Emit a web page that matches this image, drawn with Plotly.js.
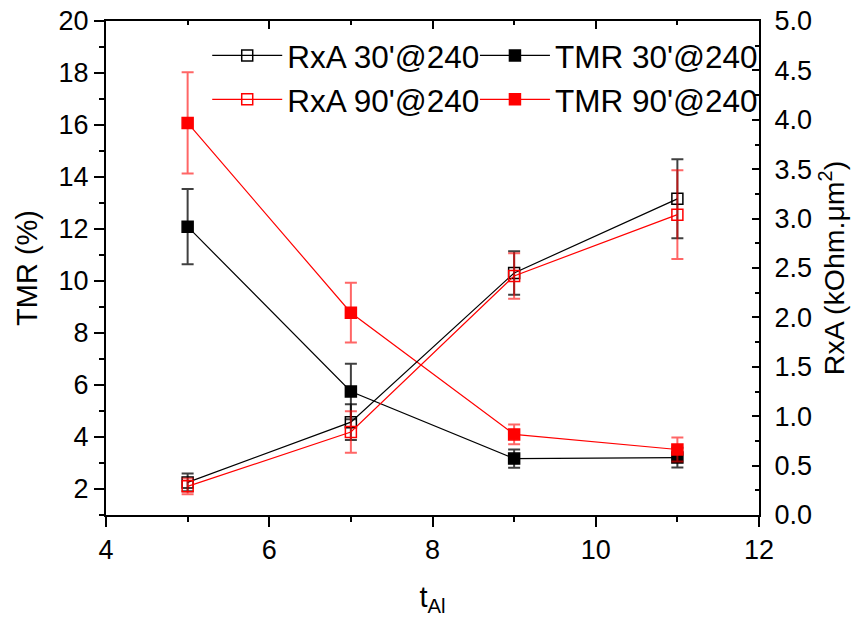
<!DOCTYPE html>
<html>
<head>
<meta charset="utf-8">
<script src="https://cdn.plot.ly/plotly-3.0.1.min.js"></script>
<style>html,body{margin:0;padding:0;background:#fff;}#chart{width:861px;height:623px;}</style>
</head>
<body>
<div id="chart"></div>
<script>
// t_Al values
const tAl = [5, 7, 9, 11];
// TMR (%) - left axis
const tmr30 = [12.09, 5.75, 3.17, 3.21];
const tmr30Err = [1.45, 1.07, 0.35, 0.38];
const tmr90 = [16.08, 8.78, 4.10, 3.52];
const tmr90Err = [1.95, 1.15, 0.38, 0.46];
// RxA (kOhm.um^2) - right axis
const rxa30 = [0.33, 0.94, 2.45, 3.20];
const rxa30Err = [0.09, 0.18, 0.22, 0.40];
const rxa90 = [0.29, 0.84, 2.42, 3.04];
const rxa90Err = [0.08, 0.21, 0.23, 0.45];

const names = ["RxA 30'@240", "TMR 30'@240", "RxA 90'@240", "TMR 90'@240"];

const font = 'Liberation Sans, Arial, sans-serif';

function tr(name, y, err, color, errColor, symbol, yax, leg) {
  return {
    type: 'scatter', mode: 'lines+markers', name: name,
    x: tAl, y: y, yaxis: yax, legend: leg,
    line: {color: color, width: 1.2},
    marker: {symbol: symbol, size: 11, color: color, line: {color: color, width: 1.5}},
    error_y: {type: 'data', array: err, visible: true, color: errColor, thickness: 2, width: 6}
  };
}

const data = [
  tr(names[0], rxa30, rxa30Err, '#000000', 'rgba(0,0,0,0.75)', 'square-open', 'y2', 'legend'),
  tr(names[2], rxa90, rxa90Err, '#ff0000', 'rgba(255,0,0,0.6)', 'square-open', 'y2', 'legend'),
  tr(names[1], tmr30, tmr30Err, '#000000', 'rgba(0,0,0,0.75)', 'square', 'y', 'legend2'),
  tr(names[3], tmr90, tmr90Err, '#ff0000', 'rgba(255,0,0,0.6)', 'square', 'y', 'legend2'),
  {type: 'scatter', x: [], y: [], xaxis: 'x2', showlegend: false, hoverinfo: 'skip'}
];

const layout = {
  width: 861, height: 623,
  margin: {l: 106, r: 102, t: 21, b: 108},
  paper_bgcolor: '#fff', plot_bgcolor: '#fff',
  font: {family: font, color: '#000', size: 27},
  showlegend: true,
  xaxis: {
    range: [4, 12], tick0: 4, dtick: 2, ticks: 'outside', ticklen: 10, tickwidth: 2,
    tickcolor: '#000', showline: true, linewidth: 2, linecolor: '#000',
    showgrid: false, zeroline: false, tickfont: {size: 27},
    minor: {ticks: 'outside', dtick: 1, tick0: 4, ticklen: 5, tickwidth: 2, tickcolor: '#000', showgrid: false},
    title: {text: 't<sub>Al</sub>', font: {size: 29}, standoff: 22}
  },
  xaxis2: {
    overlaying: 'x', side: 'top', anchor: 'y', range: [4, 12], tick0: 4, dtick: 2,
    ticks: 'inside', ticklen: 8, tickwidth: 2, tickcolor: '#000',
    showline: true, linewidth: 2, linecolor: '#000', showticklabels: false,
    showgrid: false, zeroline: false,
    minor: {ticks: 'inside', dtick: 1, tick0: 4, ticklen: 4, tickwidth: 2, tickcolor: '#000', showgrid: false}
  },
  yaxis: {
    range: [1, 20], tick0: 0, dtick: 2, ticks: 'outside', ticklen: 10, tickwidth: 2,
    tickcolor: '#000', showline: true, linewidth: 2, linecolor: '#000',
    showgrid: false, zeroline: false, tickfont: {size: 27},
    minor: {ticks: 'outside', dtick: 1, tick0: 0, ticklen: 5, tickwidth: 2, tickcolor: '#000', showgrid: false},
    title: {text: 'TMR (%)', font: {size: 29}}
  },
  yaxis2: {
    overlaying: 'y', side: 'right', anchor: 'x', range: [0, 5], tick0: 0, dtick: 0.5, tickformat: '.1f',
    ticks: 'inside', ticklen: 7, tickwidth: 2, tickcolor: '#000',
    showline: true, linewidth: 2, linecolor: '#000',
    showgrid: false, zeroline: false, tickfont: {size: 27}, ticklabelstandoff: 8,
    minor: {ticks: 'inside', dtick: 0.25, tick0: 0, ticklen: 4, tickwidth: 2, tickcolor: '#000', showgrid: false},
    title: {text: 'RxA (kOhm.μm<sup>2</sup>)', font: {size: 28.5}}
  },
  legend: {
    x: 0.155, y: 0.985, xanchor: 'left', yanchor: 'top', orientation: 'v',
    bgcolor: 'rgba(0,0,0,0)', borderwidth: 0, itemwidth: 70,
    font: {size: 31.5, family: font}, tracegroupgap: 0
  },
  legend2: {
    x: 0.565, y: 0.985, xanchor: 'left', yanchor: 'top', orientation: 'v',
    bgcolor: 'rgba(0,0,0,0)', borderwidth: 0, itemwidth: 70,
    font: {size: 31.5, family: font}, tracegroupgap: 0
  }
};

Plotly.newPlot('chart', data, layout, {displayModeBar: false, staticPlot: true});
</script>
</body>
</html>
